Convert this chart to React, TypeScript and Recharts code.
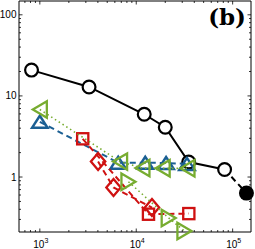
import React from 'react';
import { ScatterChart, Scatter, XAxis, YAxis } from 'recharts';

// axis ticks (log axes, MATLAB-style inward ticks)
const xTicks = [700, 800, 900, 1000, 2000, 3000, 4000, 5000, 6000, 7000, 8000, 9000, 10000,
  20000, 30000, 40000, 50000, 60000, 70000, 80000, 90000, 100000];
const xMajor = [1000, 10000, 100000];
const xExp = ['3', '4', '5'];
const yTicks = [0.3, 0.4, 0.5, 0.6, 0.7, 0.8, 0.9, 1, 2, 3, 4, 5, 6, 7, 8, 9, 10,
  20, 30, 40, 50, 60, 70, 80, 90, 100];
const yMajor = [1, 10, 100];
const yLabels = ['1', '10', '100'];

// series values
const circleX = [820, 3240, 12100, 20000, 35000, 82500];
const circleY = [20.8, 12.9, 5.94, 4.11, 1.53, 1.24];
const tailX = [82500, 139000];
const tailY = [1.24, 0.634];
const blueX = [1000, 6500, 12400, 20400, 33600];
const blueY = [4.8, 1.5, 1.5, 1.49, 1.45];
const greenLX = [1000, 6800, 11600, 18800, 34000];
const greenLY = [6.8, 1.55, 1.29, 1.28, 1.28];
const greenRX = [8300, 21700, 31600];
const greenRY = [0.875, 0.313, 0.216];
const squareX = [2785, 13400, 35100];
const squareY = [2.96, 0.348, 0.354];
const diamondX = [4020, 5810, 14560];
const diamondY = [1.55, 0.743, 0.42];

const BLUE = '#1b5f93';
const GREEN = '#77ac30';
const RED = '#cf1111';

const pts = (xs: number[], ys: number[]) => xs.map((x, i) => ({ x, y: ys[i] }));

const BottomTick = (p: any) => {
  const v = p.payload.value;
  const i = xMajor.indexOf(v);
  return (
    <g>
      <line x1={p.x} x2={p.x} y1={p.y} y2={p.y - (i >= 0 ? 3.5 : 2)} stroke="#000" strokeWidth={0.8} />
      {i >= 0 && (
        <text x={p.x + 1} y={p.y + 16} textAnchor="middle" fontSize={10} fontFamily="Liberation Sans" fill="#000">
          10<tspan dy={-5} fontSize={7}>{xExp[i]}</tspan>
        </text>
      )}
    </g>
  );
};

const TopTick = (p: any) => {
  const major = xMajor.includes(p.payload.value);
  return <line x1={p.x} x2={p.x} y1={p.y} y2={p.y + (major ? 3.5 : 2)} stroke="#000" strokeWidth={0.8} />;
};

const LeftTick = (p: any) => {
  const i = yMajor.indexOf(p.payload.value);
  return (
    <g>
      <line x1={p.x} x2={p.x + (i >= 0 ? 3.5 : 2)} y1={p.y} y2={p.y} stroke="#000" strokeWidth={0.8} />
      {i >= 0 && (
        <text x={p.x - 2.5} y={p.y + 3.5} textAnchor="end" fontSize={10} fontFamily="Liberation Sans" fill="#000">
          {yLabels[i]}
        </text>
      )}
    </g>
  );
};

const RightTick = (p: any) => {
  const major = yMajor.includes(p.payload.value);
  return <line x1={p.x} x2={p.x - (major ? 3.5 : 2)} y1={p.y} y2={p.y} stroke="#000" strokeWidth={0.8} />;
};

const OpenCircle = (p: any) => <circle cx={p.cx} cy={p.cy} r={6.4} fill="#fff" stroke="#000" strokeWidth={2.2} />;
const FilledCircle = (p: any) => <circle cx={p.cx} cy={p.cy} r={7.5} fill="#000" />;
const TriUp = (p: any) => (
  <polygon points={`${p.cx},${p.cy - 6} ${p.cx - 7.8},${p.cy + 6} ${p.cx + 7.8},${p.cy + 6}`}
    fill="none" stroke={BLUE} strokeWidth={2.4} strokeLinejoin="miter" />
);
const TriLeft = (p: any) => (
  <polygon points={`${p.cx - 7},${p.cy} ${p.cx + 7},${p.cy - 8.2} ${p.cx + 7},${p.cy + 8.2}`}
    fill="none" stroke={GREEN} strokeWidth={2.3} />
);
const TriRight = (p: any) => (
  <polygon points={`${p.cx + 7},${p.cy} ${p.cx - 7},${p.cy - 8.2} ${p.cx - 7},${p.cy + 8.2}`}
    fill="none" stroke={GREEN} strokeWidth={2.3} />
);
const Square = (p: any) => (
  <rect x={p.cx - 5.6} y={p.cy - 5.6} width={11.2} height={11.2} fill="none" stroke={RED} strokeWidth={2.3} />
);
const Diamond = (p: any) => (
  <polygon points={`${p.cx},${p.cy - 8.5} ${p.cx + 7.2},${p.cy} ${p.cx},${p.cy + 8.5} ${p.cx - 7.2},${p.cy}`}
    fill="none" stroke={RED} strokeWidth={2.3} />
);

export default function App() {
  return (
    <div style={{ position: 'absolute', left: 0, top: 0, width: 255, height: 249 }}>
      <ScatterChart width={255} height={249} margin={{ top: 0, right: 3, bottom: 0, left: 0 }}>
        <XAxis xAxisId="b" type="number" dataKey="x" scale="log" domain={[608, 155000]}
          ticks={xTicks} interval={0} tick={<BottomTick />} tickLine={false} tickSize={0} tickMargin={0}
          height={17} axisLine={{ stroke: '#000', strokeWidth: 1 }} />
        <XAxis xAxisId="t" orientation="top" type="number" dataKey="x" scale="log" domain={[608, 155000]} allowDataOverflow
          ticks={xTicks} interval={0} tick={<TopTick />} tickLine={false} tickSize={0} tickMargin={0}
          height={1} axisLine={{ stroke: '#000', strokeWidth: 1 }} />
        <YAxis yAxisId="l" type="number" dataKey="y" scale="log" domain={[0.21, 148]}
          ticks={yTicks} interval={0} tick={<LeftTick />} tickLine={false} tickSize={0} tickMargin={0}
          width={19} axisLine={{ stroke: '#000', strokeWidth: 1 }} />
        <YAxis yAxisId="r" orientation="right" type="number" dataKey="y" scale="log" domain={[0.21, 148]} allowDataOverflow
          ticks={yTicks} interval={0} tick={<RightTick />} tickLine={false} tickSize={0} tickMargin={0}
          width={1} axisLine={{ stroke: '#000', strokeWidth: 1 }} />

        <Scatter xAxisId="b" yAxisId="l" data={pts(tailX, tailY)} isAnimationActive={false}
          line={{ stroke: '#000', strokeWidth: 2, strokeDasharray: '6 4' }} lineType="joint" shape={() => <g />} />
        <Scatter xAxisId="b" yAxisId="l" data={pts(circleX, circleY)} isAnimationActive={false}
          line={{ stroke: '#000', strokeWidth: 2 }} lineType="joint" shape={OpenCircle} />
        <Scatter xAxisId="b" yAxisId="l" data={pts([tailX[1]], [tailY[1]])} isAnimationActive={false} shape={FilledCircle} />
        <Scatter xAxisId="b" yAxisId="l" data={pts(blueX, blueY)} isAnimationActive={false}
          line={{ stroke: BLUE, strokeWidth: 2, strokeDasharray: '6 4' }} lineType="joint" shape={TriUp} />
        <Scatter xAxisId="b" yAxisId="l" data={pts(squareX, squareY)} isAnimationActive={false}
          line={{ stroke: RED, strokeWidth: 2, strokeDasharray: '6 4' }} lineType="joint" shape={Square} />
        <Scatter xAxisId="b" yAxisId="l" data={pts(diamondX, diamondY)} isAnimationActive={false}
          line={{ stroke: RED, strokeWidth: 2, strokeDasharray: '6 4' }} lineType="joint" shape={Diamond} />
        <Scatter xAxisId="b" yAxisId="l" data={pts(greenLX, greenLY)} isAnimationActive={false}
          line={{ stroke: GREEN, strokeWidth: 1.6, strokeDasharray: '1.5 3' }} lineType="joint" shape={TriLeft} />
        <Scatter xAxisId="b" yAxisId="l" data={pts(greenRX, greenRY)} isAnimationActive={false}
          line={{ stroke: GREEN, strokeWidth: 1.6, strokeDasharray: '1.5 3' }} lineType="joint" shape={TriRight} />
      </ScatterChart>
      <svg width={255} height={249} style={{ position: 'absolute', left: 0, top: 0, pointerEvents: 'none' }}>
        <text x={246} y={25} textAnchor="end" fontSize={23} fontWeight="bold" fontFamily="DejaVu Serif" fill="#000">(b)</text>
      </svg>
    </div>
  );
}
